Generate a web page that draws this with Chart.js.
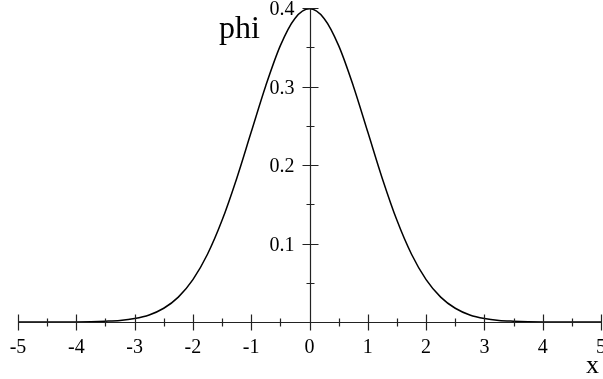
<!DOCTYPE html>
<html>
<head>
<meta charset="utf-8">
<script src="https://cdn.jsdelivr.net/npm/chart.js@4"></script>
<style>
  html, body { margin: 0; padding: 0; background: #fff; }
  #wrap { width: 603px; height: 379px; }
</style>
</head>
<body>
<div id="wrap"><canvas id="chart" width="603" height="379"></canvas></div>
<script>
// values
const xValues = [-5, -4.5, -4, -3.75, -3.5, -3.25, -3, -2.75, -2.5, -2.25, -2, -1.75, -1.5, -1.25, -1, -0.75, -0.5, -0.25,
    0, 0.25, 0.5, 0.75, 1, 1.25, 1.5, 1.75, 2, 2.25, 2.5, 2.75, 3, 3.25, 3.5, 3.75, 4, 4.5, 5];
const phiValues = [0, 0, 0.0001, 0.0004, 0.001, 0.002, 0.0044, 0.009, 0.0175, 0.0317, 0.054, 0.0863, 0.1295, 0.1826, 0.242, 0.3011, 0.3521, 0.3867,
    0.3989, 0.3867, 0.3521, 0.3011, 0.242, 0.1826, 0.1295, 0.0863, 0.054, 0.0317, 0.0175, 0.009, 0.0044, 0.002, 0.001, 0.0004, 0.0001, 0, 0];

const xTicks = [-5, -4, -3, -2, -1, 0, 1, 2, 3, 4, 5];
const xMinorTicks = [-4.5, -3.5, -2.5, -1.5, -0.5, 0.5, 1.5, 2.5, 3.5, 4.5];
const yTicks = [0.1, 0.2, 0.3, 0.4];
const yTickLabels = ["0.1", "0.2", "0.3", "0.4"];
const yMinorTicks = [0.05, 0.15, 0.25, 0.35];

const serif = '"Liberation Serif", "Times New Roman", serif';

// axes crossing at the origin, drawn on top of the curve
const axesPlugin = {
    id: 'crossAxes',
    afterDatasetsDraw(chart) {
        const ctx = chart.ctx;
        const xs = chart.scales.x;
        const ys = chart.scales.y;
        const x0 = Math.round(xs.getPixelForValue(0)) + 0.5;
        const y0 = Math.round(ys.getPixelForValue(0)) + 0.5;
        ctx.save();
        ctx.strokeStyle = '#222';
        ctx.lineWidth = 1.2;
        ctx.beginPath();
        ctx.moveTo(xs.getPixelForValue(-5), y0);
        ctx.lineTo(xs.getPixelForValue(5), y0);
        ctx.moveTo(x0, y0);
        ctx.lineTo(x0, ys.getPixelForValue(0.4));
        xTicks.forEach(v => {
            const p = Math.round(xs.getPixelForValue(v)) + 0.5;
            ctx.moveTo(p, y0 - 8); ctx.lineTo(p, y0 + 8);
        });
        xMinorTicks.forEach(v => {
            const p = Math.round(xs.getPixelForValue(v)) + 0.5;
            ctx.moveTo(p, y0 - 4); ctx.lineTo(p, y0 + 4);
        });
        yTicks.forEach(v => {
            const p = Math.round(ys.getPixelForValue(v)) + 0.5;
            ctx.moveTo(x0 - 8, p); ctx.lineTo(x0 + 8, p);
        });
        yMinorTicks.forEach(v => {
            const p = Math.round(ys.getPixelForValue(v)) + 0.5;
            ctx.moveTo(x0 - 4, p); ctx.lineTo(x0 + 4, p);
        });
        ctx.stroke();

        ctx.fillStyle = '#000';
        ctx.font = '20px ' + serif;
        ctx.textAlign = 'center';
        ctx.textBaseline = 'alphabetic';
        xTicks.forEach(v => {
            ctx.fillText(String(v), xs.getPixelForValue(v), 353);
        });
        ctx.textAlign = 'right';
        ctx.textBaseline = 'middle';
        yTicks.forEach((v, i) => {
            ctx.fillText(yTickLabels[i], x0 - 16, ys.getPixelForValue(v) + 2);
        });

        // axis titles
        ctx.textAlign = 'left';
        ctx.textBaseline = 'alphabetic';
        ctx.font = '32px ' + serif;
        ctx.fillText('phi', 219, 38);
        ctx.font = '26px ' + serif;
        ctx.fillText('x', 586, 373);
        ctx.restore();
    }
};

new Chart(document.getElementById('chart'), {
    type: 'scatter',
    data: {
        datasets: [{
            label: 'phi',
            data: xValues.map((x, i) => ({ x: x, y: phiValues[i] })),
            showLine: true,
            borderColor: '#000',
            borderWidth: 1.5,
            pointRadius: 0,
            cubicInterpolationMode: 'monotone',
            clip: false
        }]
    },
    options: {
        responsive: false,
        animation: false,
        layout: { padding: { left: 18, right: 2, top: 8, bottom: 57 } },
        plugins: { legend: { display: false }, tooltip: { enabled: false } },
        scales: {
            x: { type: 'linear', min: -5, max: 5, display: false },
            y: { type: 'linear', min: 0, max: 0.4, display: false }
        }
    },
    plugins: [axesPlugin]
});
</script>
</body>
</html>
